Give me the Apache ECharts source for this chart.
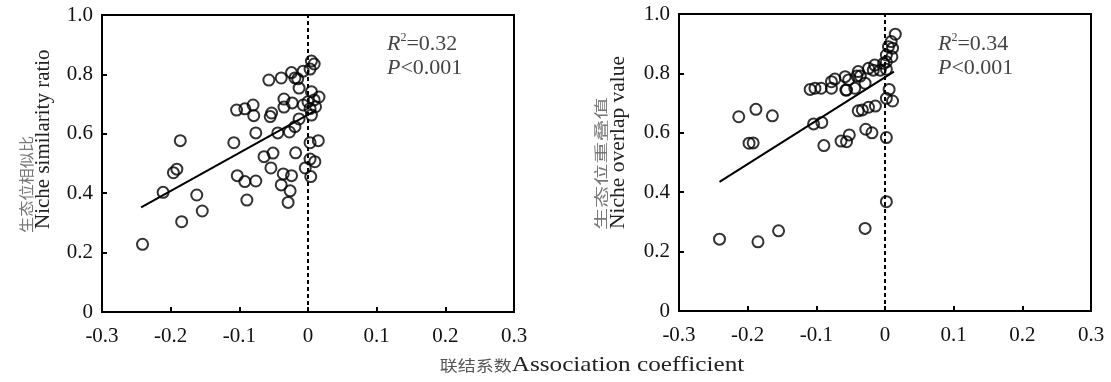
<!DOCTYPE html>
<html>
<head>
<meta charset="utf-8">
<title>niche</title>
<script src="https://cdn.jsdelivr.net/npm/echarts@6/dist/echarts.min.js"></script>
<style>
  html, body { margin: 0; padding: 0; background: #fff; }
  #main { width: 1111px; height: 382px; }
</style>
</head>
<body>
<div id="main"></div>
<script>
// 联结系数 vs 生态位相似比
var simPoints = [
  [0.005, 0.845], [0.009, 0.835], [0.003, 0.818], [-0.024, 0.806], [-0.007, 0.811],
  [-0.039, 0.788], [-0.057, 0.781], [-0.019, 0.788], [-0.015, 0.785], [-0.013, 0.754],
  [0.005, 0.742], [0.016, 0.724], [0.009, 0.714], [0.0, 0.708], [-0.035, 0.717],
  [-0.035, 0.690], [-0.023, 0.704], [-0.007, 0.697], [0.011, 0.691], [0.003, 0.685],
  [-0.104, 0.680], [-0.092, 0.684], [-0.080, 0.697], [-0.079, 0.661], [-0.055, 0.658],
  [-0.053, 0.670], [0.005, 0.663], [-0.013, 0.650], [-0.019, 0.624], [-0.027, 0.606],
  [-0.044, 0.603], [-0.076, 0.603], [-0.186, 0.577], [-0.108, 0.570], [0.003, 0.570],
  [0.015, 0.577], [-0.051, 0.535], [-0.064, 0.523], [-0.018, 0.536], [0.003, 0.515],
  [0.010, 0.506], [-0.004, 0.485], [-0.054, 0.485], [-0.196, 0.469], [-0.191, 0.481],
  [-0.103, 0.459], [-0.092, 0.439], [-0.076, 0.441], [-0.036, 0.465], [-0.024, 0.459],
  [-0.039, 0.428], [-0.026, 0.408], [0.004, 0.456], [-0.211, 0.403], [-0.162, 0.394],
  [-0.089, 0.377], [-0.154, 0.340], [-0.029, 0.369], [-0.184, 0.304], [-0.241, 0.228]
];
var simFit = [[-0.243, 0.352], [0.012, 0.680]];

// 联结系数 vs 生态位重叠值
var overlapPoints = [
  [0.015, 0.932], [0.009, 0.907], [0.011, 0.885], [0.005, 0.890], [0.002, 0.862],
  [0.010, 0.856], [0.002, 0.839], [-0.002, 0.834], [0.002, 0.814], [-0.017, 0.811],
  [-0.015, 0.828], [-0.024, 0.817], [-0.007, 0.811], [-0.039, 0.806], [-0.036, 0.791],
  [-0.053, 0.778], [-0.058, 0.789], [-0.056, 0.744], [-0.029, 0.767], [-0.078, 0.772],
  [-0.073, 0.781], [-0.078, 0.750], [-0.093, 0.750], [-0.109, 0.746], [-0.102, 0.750],
  [-0.044, 0.750], [0.006, 0.746], [0.002, 0.716], [0.011, 0.707], [-0.188, 0.679],
  [-0.213, 0.654], [-0.164, 0.657], [-0.039, 0.674], [-0.033, 0.677], [-0.024, 0.686],
  [-0.014, 0.690], [-0.104, 0.630], [-0.092, 0.635], [-0.028, 0.612], [-0.019, 0.600],
  [-0.052, 0.593], [-0.064, 0.572], [-0.056, 0.570], [0.002, 0.584], [-0.198, 0.565],
  [-0.192, 0.566], [-0.089, 0.557], [0.002, 0.368], [-0.241, 0.242], [-0.185, 0.233],
  [-0.155, 0.270], [-0.029, 0.278], [-0.041, 0.791], [-0.057, 0.744]
];
var overlapFit = [[-0.241, 0.435], [0.013, 0.806]];

var zeroLine = [[0, 0], [0, 1]];
var xTicks = ['-0.3', '-0.2', '-0.1', '0', '0.1', '0.2', '0.3'];
var yTicks = ['0', '0.2', '0.4', '0.6', '0.8', '1.0'];
var simStats = ['R', '2', '=0.32', '<0.001'];
var overlapStats = ['R', '2', '=0.34', '<0.001'];

var serif = '"Liberation Serif", "Times New Roman", serif';
var cjk = '"Noto Sans CJK SC", serif';

function xAxisOf(i) {
  return {
    gridIndex: i, type: 'value', min: -0.3, max: 0.3, interval: 0.1,
    axisLine: { onZero: false, lineStyle: { color: '#000', width: 2 } },
    axisTick: { inside: true, length: 5, lineStyle: { color: '#000', width: 2 } },
    splitLine: { show: false },
    axisLabel: {
      margin: 14, fontFamily: serif, fontSize: 21, color: '#111',
      formatter: function (v) { return xTicks[Math.round((v + 0.3) * 10)]; }
    }
  };
}
function yAxisOf(i) {
  return {
    gridIndex: i, type: 'value', min: 0, max: 1, interval: 0.2,
    axisLine: { onZero: false, lineStyle: { color: '#000', width: 2 } },
    axisTick: { inside: true, length: 5, lineStyle: { color: '#000', width: 2 } },
    splitLine: { show: false },
    axisLabel: {
      margin: 9, fontFamily: serif, fontSize: 21, color: '#111',
      formatter: function (v) { return yTicks[Math.round(v * 5)]; }
    }
  };
}
function dotsOf(i, pts) {
  return {
    type: 'scatter', xAxisIndex: i, yAxisIndex: i, data: pts,
    symbol: 'circle', symbolSize: 11,
    itemStyle: { color: 'rgba(0,0,0,0)', borderColor: '#000', borderWidth: 2 },
    z: 3
  };
}
function lineOf(i, pts, dashed) {
  return {
    type: 'line', xAxisIndex: i, yAxisIndex: i, data: pts,
    symbol: 'none', silent: true,
    lineStyle: dashed ? { color: '#000', width: 2, type: [4, 3] } : { color: '#000', width: 2 },
    z: 2
  };
}
function statsText(x, s) {
  return {
    type: 'text', left: x, top: 32,
    style: {
      text: '{i|' + s[0] + '}{s|' + s[1] + '}{n|' + s[2] + '}\n{i|P}{n|' + s[3] + '}',
      lineHeight: 24,
      rich: {
        i: { fontFamily: serif, fontStyle: 'italic', fontSize: 22, fill: '#444', lineHeight: 24 },
        s: { fontFamily: serif, fontSize: 12, fill: '#444', verticalAlign: 'top', lineHeight: 24, padding: [0, 0, 10, 0] },
        n: { fontFamily: serif, fontSize: 22, fill: '#444', lineHeight: 24 }
      }
    }
  };
}
function yName(x, y, text, font, size, color, stretch) {
  return {
    type: 'text', x: x, y: y, rotation: Math.PI / 2, scaleX: stretch || 1,
    style: { text: text, fontFamily: font, fontSize: size, fill: color, textAlign: 'left', textVerticalAlign: 'middle' }
  };
}

var myChart = echarts.init(document.getElementById('main'));
var option = {
  animation: false,
  grid: [
    { left: 102, top: 15, width: 412, height: 297, show: true, borderColor: '#000', borderWidth: 2, backgroundColor: 'transparent' },
    { left: 679, top: 14, width: 412, height: 297, show: true, borderColor: '#000', borderWidth: 2, backgroundColor: 'transparent' }
  ],
  xAxis: [xAxisOf(0), xAxisOf(1)],
  yAxis: [yAxisOf(0), yAxisOf(1)],
  series: [
    lineOf(0, zeroLine, true), lineOf(0, simFit, false), dotsOf(0, simPoints),
    lineOf(1, zeroLine, true), lineOf(1, overlapFit, false), dotsOf(1, overlapPoints)
  ],
  graphic: [
    statsText(387, simStats),
    statsText(938, overlapStats),
    yName(26, 233, '生态位相似比', cjk, 15, '#777', 1.08),
    yName(43, 229, 'Niche similarity ratio', serif, 21, '#222'),
    yName(601, 230, '生态位重叠值', cjk, 14, '#777', 1.58),
    yName(618, 229, 'Niche overlap value', serif, 21.5, '#222'),
    {
      type: 'text', x: 592, y: 365, scaleX: 1.2,
      style: {
        text: '{c|联结系数}{e|Association coefficient}',
        textAlign: 'center', textVerticalAlign: 'middle',
        rich: {
          c: { fontFamily: cjk, fontSize: 15, fill: '#555' },
          e: { fontFamily: serif, fontSize: 21, fill: '#222' }
        }
      }
    }
  ]
};
myChart.setOption(option);
</script>
</body>
</html>
